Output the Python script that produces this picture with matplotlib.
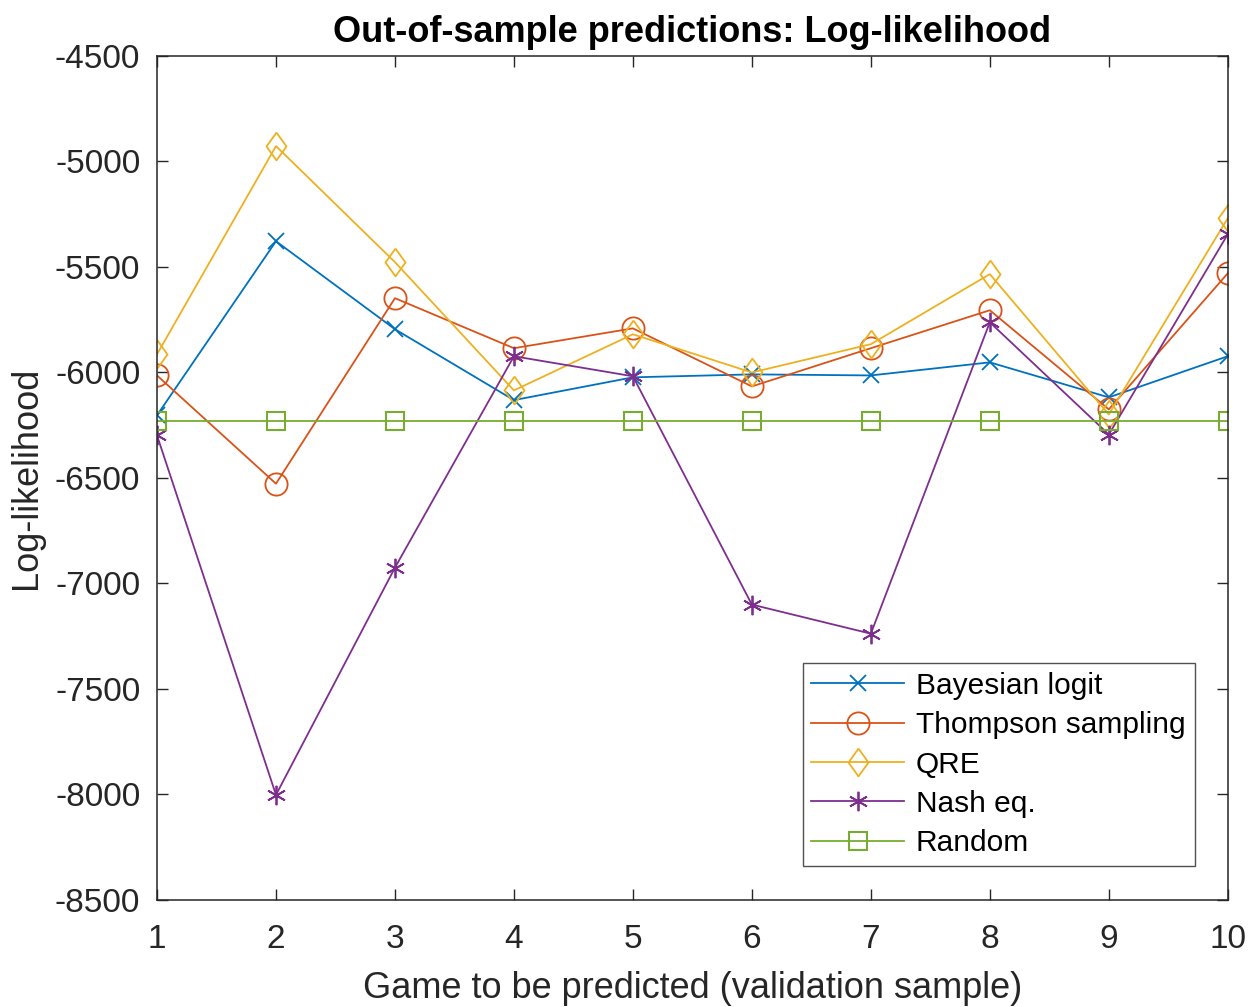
import matplotlib
matplotlib.use('Agg')
import matplotlib.pyplot as plt

plt.rcParams['font.family'] = ['Liberation Sans', 'DejaVu Sans']
plt.rcParams['axes.unicode_minus'] = False

# data
games = [1, 2, 3, 4, 5, 6, 7, 8, 9, 10]
bayesian = [-6203, -5378, -5795, -6131, -6023, -6009, -6014, -5952, -6118, -5923]
thompson = [-6014, -6527, -5648, -5885, -5791, -6066, -5885, -5705, -6175, -5530]
qre = [-5914, -4927, -5477, -6085, -5819, -6000, -5866, -5534, -6199, -5269]
nash = [-6298, -8002, -6925, -5923, -6018, -7100, -7238, -5762, -6294, -5345]
random_ll = [-6232] * 10

fig = plt.figure(figsize=(12.49, 10.07), dpi=100)
ax = fig.add_axes([0.1257, 0.1063, 0.8573, 0.8381])

# matlab-style diamond (taller than wide)
diamond = [(0, 1), (0.72, 0), (0, -1), (-0.72, 0), (0, 1)]

ax.plot(games, bayesian, color='#0072BD', marker='x', ms=12, mew=1.3, lw=1.3, label='Bayesian logit')
ax.plot(games, thompson, color='#D95319', marker='o', ms=16, mew=1.3, lw=1.3, mfc='none', label='Thompson sampling')
ax.plot(games, qre, color='#EDB120', marker=diamond, ms=20, mew=1.3, lw=1.3, mfc='none', label='QRE')
ax.plot(games, nash, color='#7E2F8E', marker=(6, 2, 0), ms=14, mew=1.3, lw=1.3, label='Nash eq.')
ax.plot(games, random_ll, color='#77AC30', marker='s', ms=12.5, mew=1.5, lw=1.3, mfc='none', label='Random')

ax.set_xlim(1, 10)
ax.set_ylim(-8500, -4500)
ax.set_xticks(games)
ax.set_yticks(range(-8500, -4499, 500))
ax.tick_params(direction='in', length=8, width=1, labelsize=24, top=True, right=True, colors='#262626')
ax.tick_params(axis='x', pad=17)
ax.tick_params(axis='y', pad=12)
for s in ax.spines.values():
    s.set_color('#262626')
    s.set_linewidth(1.1)

ax.set_title('Out-of-sample predictions: Log-likelihood', fontsize=26, fontweight='bold', pad=10)
ax.set_xlabel('Game to be predicted (validation sample)', fontsize=26, color='#262626', labelpad=12)
ax.set_ylabel('Log-likelihood', fontsize=26, color='#262626', labelpad=8)

leg = ax.legend(loc='lower right', bbox_to_anchor=(0.969, 0.04), fontsize=21.5, fancybox=False,
                edgecolor='#262626', handlelength=3.1, borderpad=0.3, labelspacing=0.38, handletextpad=0.4,
                borderaxespad=0)
leg.get_frame().set_linewidth(1.0)

plt.savefig('out.png', dpi=100)
